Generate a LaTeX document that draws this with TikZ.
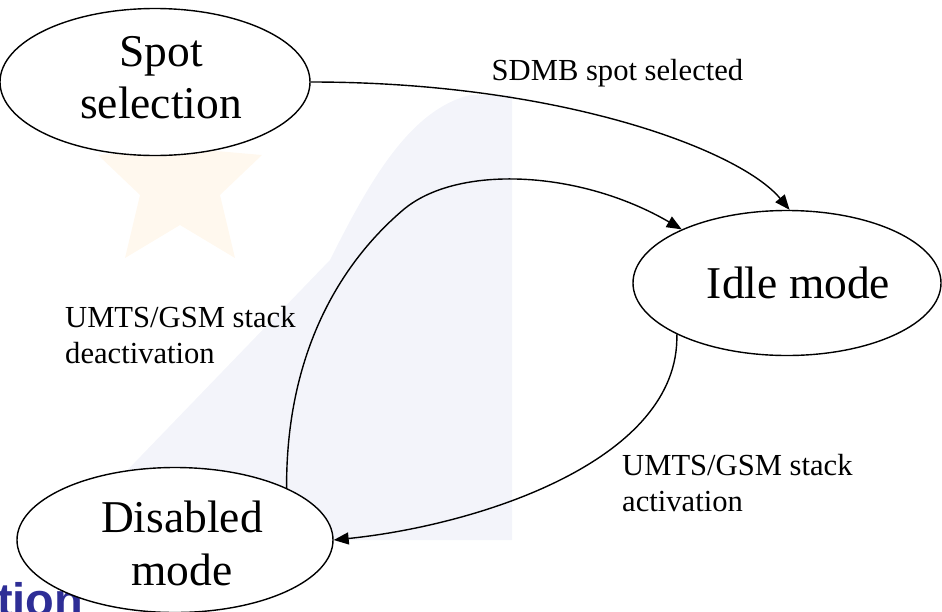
\documentclass[tikz,border=0pt]{standalone}
\usepackage{fontspec}
\setmainfont{Liberation Serif}
\newfontfamily\wmfont{Liberation Sans}
\usetikzlibrary{shapes.geometric,arrows.meta}
\definecolor{wmblue}{RGB}{46,46,150}
\definecolor{wmshade}{RGB}{243,244,250}
\definecolor{wmorange}{RGB}{255,248,238}
\begin{document}
\begin{tikzpicture}[x=1pt,y=-1pt,
  state/.style={ellipse,draw,fill=white,line width=1.4pt,inner sep=0pt},
  statetext/.style={inner sep=0pt,align=center,font=\fontsize{45.5}{52.5}\selectfont},
  lbl/.style={inner sep=0pt,align=left,font=\fontsize{30.6}{36.5}\selectfont},
  trans/.style={line width=1.4pt,-{Triangle[length=15pt,width=12pt]}}]
\useasboundingbox (0,0) rectangle (942,611);
% faint background watermark
\fill[wmshade] (60,540) -- (330,260) .. controls (370,180) and (410,110) .. (470,95)
  -- (512,95) -- (512,540) -- cycle;
\fill[wmorange] (180,100) -- (205,150) -- (262,155) -- (220,195) -- (235,258)
  -- (180,225) -- (125,258) -- (140,195) -- (98,155) -- (155,150) -- cycle;
\begin{scope}
\clip (0,0) rectangle (942,611);
\node[anchor=base west,inner sep=0pt,text=wmblue,font=\wmfont\bfseries\fontsize{47}{47}\selectfont] (wm) at (-3,616) {tion};
\end{scope}
% states
\node[state,minimum width=310pt,minimum height=147pt] (spot) at (155,82) {};
\node[state,minimum width=308pt,minimum height=145pt] (idle) at (787,283) {};
\node[state,minimum width=316pt,minimum height=145pt] (dis) at (175,540) {};
\node[statetext,anchor=north] (spottext) at (161,36) {Spot\\selection};
\node[statetext,anchor=base] (idletext) at (798.5,298) {Idle mode};
\node[statetext,anchor=north] (distext) at (182,501) {Disabled\\mode};
% labels
\node[lbl,anchor=base west] (l1) at (491.5,80) {SDMB spot selected};
\node[lbl,anchor=north west] (l2) at (65,306) {UMTS/GSM stack\\deactivation};
\node[lbl,anchor=north west] (l3) at (622,454) {UMTS/GSM stack\\activation};
% transitions
\coordinate (dtop) at (403,210);
\draw[trans] (spot.east) .. controls (560,82) and (740,150) .. (idle.88);
\draw[trans] (dis.25) .. controls (286,360) and (335,268) .. (dtop)
  .. controls (457,164) and (580,170) .. (idle.153);
\draw[trans] (idle.205) .. controls (680,460) and (480,525) .. (dis.east);
\end{tikzpicture}
\end{document}
